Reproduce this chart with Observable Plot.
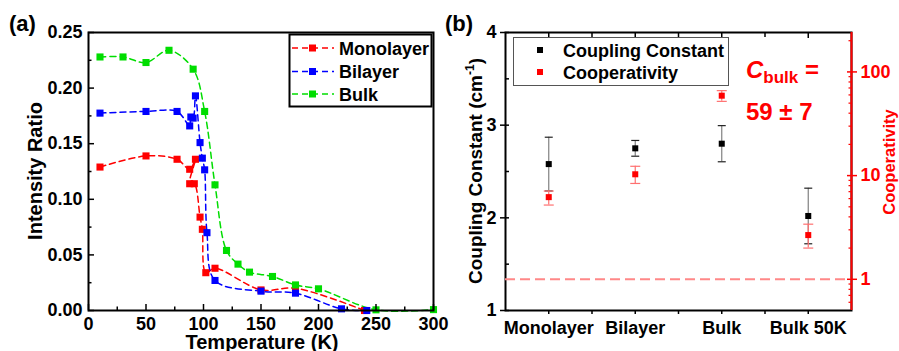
<!DOCTYPE html>
<html><head><meta charset="utf-8">
<script src="https://cdn.jsdelivr.net/npm/d3@7"></script>
<script src="https://cdn.jsdelivr.net/npm/@observablehq/plot@0.6"></script>
<style>
body{margin:0;background:#fff;}
#wrap{position:relative;width:899px;height:351px;overflow:hidden;background:#fff;}
#wrap svg{position:absolute;top:0;}
</style></head><body><div id="wrap"></div>
<script>
// ---------- Panel (a) data ----------
const seriesNames = ["Monolayer", "Bilayer", "Bulk"];
const seriesColors = ["#ff0000", "#0000ff", "#00dd00"];
const monoT = [10, 50, 77, 88, 93, 88, 92, 97, 99, 102, 110, 150, 180, 240];
const monoR = [0.129, 0.139, 0.136, 0.127, 0.136, 0.114, 0.114, 0.084, 0.073, 0.034, 0.038, 0.0185, 0.020, 0.000];
const biT = [10, 50, 77, 88, 89, 91, 93, 97, 99, 101, 103, 110, 150, 180, 220, 242];
const biR = [0.1775, 0.179, 0.179, 0.166, 0.174, 0.173, 0.193, 0.151, 0.137, 0.1265, 0.070, 0.027, 0.0174, 0.0156, 0.0015, 0.000];
const bulkT = [10, 30, 50, 70, 91, 101, 110, 120, 130, 140, 160, 180, 200, 250, 300];
const bulkR = [0.228, 0.228, 0.223, 0.234, 0.217, 0.179, 0.113, 0.054, 0.0417, 0.0345, 0.0306, 0.023, 0.0195, 0.0006, 0.0008];
const tempTicks = [0, 50, 100, 150, 200, 250, 300];
const tempMinor = [25, 75, 125, 175, 225, 275];
const ratioTicks = [0, 0.05, 0.10, 0.15, 0.20, 0.25];
const ratioMinor = [0.025, 0.075, 0.125, 0.175, 0.225];

// ---------- Panel (b) data ----------
const cats = ["Monolayer", "Bilayer", "Bulk", "Bulk 50K"];
const coupling = [2.58, 2.75, 2.80, 2.02];
const couplingErr = [0.29, 0.085, 0.195, 0.30];
const coop = [6.2, 10.3, 59, 2.67];
const coopLow = [5.2, 8.4, 52, 2.0];
const coopHigh = [7.1, 12.3, 66, 3.4];
const couplingTicks = [1, 2, 3, 4];
const couplingMinor = [1.5, 2.5, 3.5];
const coopTicks = [1, 10, 100];
const coopMinor = [0.6, 0.7, 0.8, 0.9, 2, 3, 4, 5, 6, 7, 8, 9, 20, 30, 40, 50, 60, 70, 80, 90, 200];

const FONT = '"Liberation Sans", Arial, Helvetica, sans-serif';
const baseStyle = {fontFamily: FONT, fontSize: "18px", fontWeight: "bold", color: "#000", background: "transparent", overflow: "visible"};

// ---------- Panel (a) ----------
const seriesT = [monoT, biT, bulkT];
const seriesR = [monoR, biR, bulkR];
const rowsA = seriesNames.flatMap((name, s) => seriesT[s].map((t, i) => ({series: name, T: t, R: seriesR[s][i]})));

const plotA = Plot.plot({
  width: 440, height: 351,
  marginLeft: 88, marginRight: 7, marginTop: 32, marginBottom: 41,
  style: baseStyle,
  x: {domain: [0, 300]},
  y: {domain: [0, 0.25]},
  color: {domain: seriesNames, range: seriesColors},
  marks: [
    Plot.line(rowsA, {x: "T", y: "R", z: "series", stroke: "series", strokeWidth: 1.5, strokeDasharray: "6,4", curve: "catmull-rom"}),
    Plot.dot(rowsA, {x: "T", y: "R", fill: "series", symbol: "square", r: 4}),
    Plot.frame({stroke: "#000", strokeWidth: 2}),
    Plot.axisX({ticks: tempTicks, tickSize: -6, fill: "none", label: null, strokeWidth: 1.5}),
    Plot.axisX({ticks: tempMinor, tickSize: -3.5, fill: "none", label: null, strokeWidth: 1.5}),
    Plot.axisX({ticks: tempTicks, tickSize: 0, tickPadding: 7, label: null, tickFormat: d3.format("d")}),
    Plot.axisY({ticks: ratioTicks, tickSize: -6, fill: "none", label: null, strokeWidth: 1.5}),
    Plot.axisY({ticks: ratioMinor, tickSize: -3.5, fill: "none", label: null, strokeWidth: 1.5}),
    Plot.axisY({ticks: ratioTicks, tickSize: 0, tickPadding: 6, label: null, tickFormat: d3.format(".2f")})
  ]
});
plotA.style.left = "0px";

// ---------- Panel (b) ----------
const rowsB = cats.map((c, i) => ({
  pos: i + 1, cat: c,
  cc: coupling[i], ccLo: coupling[i] - couplingErr[i], ccHi: coupling[i] + couplingErr[i],
  co: coop[i], coLo: coopLow[i], coHi: coopHigh[i]
}));
const xDomB = [0.5, cats.length + 0.5];
const catPos = cats.map((_, i) => i + 1);
const catMinor = cats.slice(1).map((_, i) => i + 1.5);
const capSymbol = {draw(ctx, size) { const w = Math.sqrt(size / Math.PI); ctx.moveTo(-w, 0); ctx.lineTo(w, 0); }};

const margB = {width: 459, height: 351, marginLeft: 65, marginRight: 48, marginTop: 32, marginBottom: 41};

const plotB1 = Plot.plot({
  ...margB,
  style: baseStyle,
  x: {domain: xDomB},
  y: {domain: [1, 4]},
  marks: [
    Plot.frame({stroke: "#000", strokeWidth: 2}),
    Plot.ruleX(rowsB, {x: "pos", y1: "ccLo", y2: "ccHi", stroke: "#808080", strokeWidth: 1.2}),
    Plot.dot(rowsB, {x: "pos", y: "ccLo", symbol: capSymbol, r: 4, stroke: "#222", fill: "none", strokeWidth: 1.2}),
    Plot.dot(rowsB, {x: "pos", y: "ccHi", symbol: capSymbol, r: 4, stroke: "#222", fill: "none", strokeWidth: 1.2}),
    Plot.dot(rowsB, {x: "pos", y: "cc", symbol: "square", r: 3.4, fill: "#000"}),
    Plot.axisX({ticks: catPos, tickSize: 4, fill: "none", label: null, strokeWidth: 1.5}),
    Plot.axisX({ticks: catMinor, tickSize: 4, fill: "none", label: null, strokeWidth: 1.5}),
    Plot.axisX({anchor: "top", ticks: catPos, tickSize: -5, fill: "none", label: null, strokeWidth: 1.5}),
    Plot.axisX({anchor: "top", ticks: catMinor, tickSize: -4, fill: "none", label: null, strokeWidth: 1.5}),
    Plot.axisX({ticks: catPos, tickSize: 0, tickPadding: 11, label: null, tickFormat: (d) => cats[d - 1]}),
    Plot.axisY({ticks: couplingTicks, tickSize: 5, fill: "none", label: null, strokeWidth: 1.5}),
    Plot.axisY({ticks: couplingTicks, tickSize: -4, fill: "none", label: null, strokeWidth: 1.5}),
    Plot.axisY({ticks: couplingMinor, tickSize: -4, fill: "none", label: null, strokeWidth: 1.5}),
    Plot.axisY({ticks: couplingTicks, tickSize: 0, tickPadding: 9, label: null, tickFormat: d3.format("d")})
  ]
});
plotB1.style.left = "440px";

const plotB2 = Plot.plot({
  ...margB,
  style: {...baseStyle, color: "#ff0000"},
  x: {domain: xDomB, axis: null},
  y: {type: "log", domain: [0.5, 240]},
  marks: [
    Plot.ruleY([1], {stroke: "#ff8888", strokeWidth: 2, strokeDasharray: "10,5"}),
    Plot.ruleX([xDomB[1]], {stroke: "#ff0000", strokeWidth: 2}),
    Plot.ruleX(rowsB, {x: "pos", y1: "coLo", y2: "coHi", stroke: "#ff7070", strokeWidth: 1.2}),
    Plot.dot(rowsB, {x: "pos", y: "coLo", symbol: capSymbol, r: 5, stroke: "#ff7070", fill: "none", strokeWidth: 1.2}),
    Plot.dot(rowsB, {x: "pos", y: "coHi", symbol: capSymbol, r: 5, stroke: "#ff7070", fill: "none", strokeWidth: 1.2}),
    Plot.dot(rowsB, {x: "pos", y: "co", symbol: "square", r: 3.4, fill: "#ff0000"}),
    Plot.axisY({anchor: "right", ticks: coopTicks, tickSize: 5, fill: "none", label: null, strokeWidth: 1.5}),
    Plot.axisY({anchor: "right", ticks: coopTicks, tickSize: -5, fill: "none", label: null, strokeWidth: 1.5}),
    Plot.axisY({anchor: "right", ticks: coopMinor, tickSize: -3.5, fill: "none", label: null, strokeWidth: 1.2}),
    Plot.axisY({anchor: "right", ticks: coopTicks, tickSize: 0, tickPadding: 9, label: null, tickFormat: d3.format("d")})
  ]
});
plotB2.style.left = "440px";

const wrap = document.getElementById("wrap");
wrap.append(plotA, plotB1, plotB2);

// ---------- Annotations, titles and legends ----------
const ov = d3.select(wrap).append("svg").attr("width", 899).attr("height", 351)
  .style("left", "0px").style("font-family", FONT).style("font-weight", "bold");

ov.append("text").attr("x", 9).attr("y", 31).attr("font-size", 22).text("(a)");
ov.append("text").attr("x", 445).attr("y", 31).attr("font-size", 22).text("(b)");
ov.append("text").attr("x", 262).attr("y", 349).attr("font-size", 20).attr("text-anchor", "middle").text("Temperature (K)");
ov.append("text").attr("transform", "translate(42,171) rotate(-90)").attr("font-size", 20).attr("text-anchor", "middle").text("Intensity Ratio");
const cc = ov.append("text").attr("transform", "translate(482,171) rotate(-90)").attr("font-size", 19).attr("text-anchor", "middle");
cc.append("tspan").text("Coupling Constant (cm");
cc.append("tspan").attr("font-size", 12).attr("dy", -8).text("-1");
cc.append("tspan").attr("dy", 8).text(")");
ov.append("text").attr("transform", "translate(895,162) rotate(-90)").attr("font-size", 16.5).attr("text-anchor", "middle").attr("fill", "#ff0000").text("Cooperativity");

const cb = ov.append("text").attr("x", 746).attr("y", 78).attr("fill", "#ff0000").attr("font-size", 24);
cb.append("tspan").attr("font-style", "italic").text("C");
cb.append("tspan").attr("font-size", 17).attr("dy", 5).text("bulk");
cb.append("tspan").attr("dy", -5).text(" =");
ov.append("text").attr("x", 746).attr("y", 120).attr("fill", "#ff0000").attr("font-size", 24).text("59 \u00B1 7");

// legend (a)
ov.append("rect").attr("x", 289.5).attr("y", 34.5).attr("width", 142).attr("height", 72).attr("fill", "#fff").attr("stroke", "#000").attr("stroke-width", 2);
const legYa = [48, 71.5, 94];
seriesNames.forEach((name, i) => {
  const y = legYa[i];
  ov.append("line").attr("x1", 292).attr("x2", 334).attr("y1", y).attr("y2", y).attr("stroke", seriesColors[i]).attr("stroke-width", 1.5).attr("stroke-dasharray", "6,4");
  ov.append("rect").attr("x", 309).attr("y", y - 3.5).attr("width", 7).attr("height", 7).attr("fill", seriesColors[i]);
  ov.append("text").attr("x", 339).attr("y", y + 6.5).attr("font-size", 18).text(name);
});

// legend (b)
const legNamesB = ["Coupling Constant", "Cooperativity"];
const legColorsB = ["#000", "#ff0000"];
ov.append("rect").attr("x", 513.5).attr("y", 37.5).attr("width", 215).attr("height", 48).attr("fill", "#fff").attr("stroke", "#555").attr("stroke-width", 1);
[50, 72].forEach((y, i) => {
  ov.append("rect").attr("x", 537).attr("y", y - 3).attr("width", 6).attr("height", 6).attr("fill", legColorsB[i]);
  ov.append("text").attr("x", 563).attr("y", y + 6.5).attr("font-size", 18).text(legNamesB[i]);
});
</script></body></html>
